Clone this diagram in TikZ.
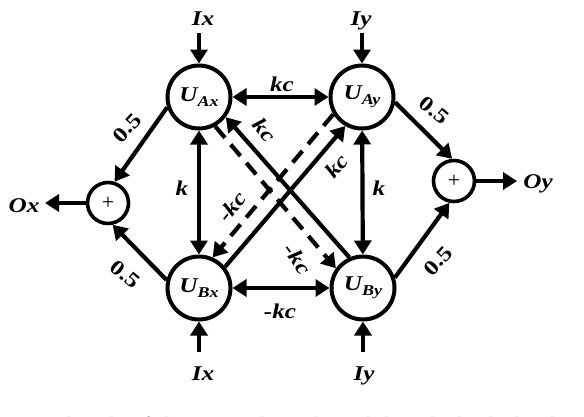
\documentclass[tikz,border=0pt]{standalone}
\usepackage{fontspec}
\setmainfont{Liberation Serif}
\newfontfamily\widefont[FakeStretch=1.2]{Liberation Serif}
\usetikzlibrary{arrows.meta,calc}
\begin{document}
\begin{tikzpicture}[x=1pt,y=-1pt,
  unit/.style={circle,draw,line width=4pt,minimum size=63pt,inner sep=0pt},
  plus/.style={circle,draw,line width=3.6pt,minimum size=41pt,inner sep=0pt,font=\fontsize{22}{22}\selectfont},
  conn/.style={line width=4.2pt,-{Triangle[length=14pt,width=17pt]}},
  bi/.style={line width=4.2pt,{Triangle[length=14pt,width=17pt]}-{Triangle[length=14pt,width=17pt]}},
  dconn/.style={conn,dash pattern=on 15pt off 9pt},
  lbl/.style={font=\widefont\bfseries\itshape\fontsize{21}{21}\selectfont,inner sep=0pt},
  num/.style={font=\widefont\bfseries\fontsize{21}{21}\selectfont,inner sep=0pt},
  io/.style={font=\widefont\bfseries\itshape\fontsize{21}{21}\selectfont,inner sep=0pt,anchor=base},
  captext/.style={font=\fontsize{26}{26}\selectfont,inner sep=0pt,anchor=base west}]
\useasboundingbox (0,0) rectangle (584,416);

% units
\newcommand{\unitlabel}[2]{{\widefont\bfseries\itshape\fontsize{21}{21}\selectfont U\raisebox{-5pt}{\fontsize{15}{15}\selectfont #1#2}}}
\node[unit] (Ax) at (199,97) {\unitlabel{A}{x}};
\node[unit] (Ay) at (362,97) {\unitlabel{A}{y}};
\node[unit] (Bx) at (199,288) {\unitlabel{B}{x}};
\node[unit] (By) at (363,288) {\unitlabel{B}{y}};
\node[plus] (px) at (108,203) {+};
\node[plus] (py) at (454,181) {+};

% inputs / outputs
\node[io] (IxT) at (203,25) {Ix};
\node[io] (IyT) at (361,25) {Iy};
\node[io] (IxB) at (203,380) {Ix};
\node[io] (IyB) at (364,380) {Iy};
\node[io] (Ox) at (24,212) {Ox};
\node[io] (Oy) at (538,188) {Oy};
\coordinate (ixs) at (199,33);
\coordinate (iys) at (362,33);
\coordinate (ixb) at (199,352);
\coordinate (iyb) at (363,352);
\coordinate (oxe) at (45,203);
\coordinate (oye) at (517,181);
\draw[conn] (ixs) -- (Ax);
\draw[conn] (iys) -- (Ay);
\draw[conn] (ixb) -- (Bx);
\draw[conn] (iyb) -- (By);
\draw[conn] (px) -- (oxe);
\draw[conn] (py) -- (oye);

% couplings
\draw[bi] (Ax) -- (Ay);
\draw[bi] (Bx) -- (By);
\draw[bi] (Ax) -- (Bx);
\draw[bi] (Ay) -- (By);
\draw[conn] (By.114) -- (Ax.-37);
\draw[dconn] (Ax.-61) -- (By.144);
\draw[conn] (Bx.39) -- (Ay.240);
\draw[dconn] (Ay.211) -- (Bx.66);

% outputs
\draw[conn] (Ax.198) -- (px.73);
\draw[conn] (Bx.166) -- (px.282);
\draw[conn] (Ay.-9) -- (py.95);
\draw[conn] (By.18) -- (py.258);

% labels
\node[lbl] (lkc1) at (282,84) {kc};
\node[lbl] (lkc2) at (280,311) {-kc};
\node[lbl] (lk1) at (182,188) {k};
\node[lbl] (lk2) at (379,188) {k};
\node[lbl,rotate=-50] (lkc3) at (265,130) {kc};
\node[lbl,rotate=50] (lkc4) at (337,166) {kc};
\node[lbl,rotate=50] (lkc5) at (232,207) {-kc};
\node[lbl,rotate=-55] (lkc6) at (298,259) {-kc};
\node[num,rotate=47] (n1) at (127,128) {0.5};
\node[num,rotate=-40] (n2) at (125,274) {0.5};
\node[num,rotate=-40] (n3) at (434,110) {0.5};
\node[num,rotate=47] (n4) at (438,261) {0.5};

% cropped caption
\begin{scope}
\clip (0,0) rectangle (584,416);
\node[captext] (caption) at (-2,435) {2.\ \ A sketch of the HNN-based model with the hybrid activation function};
\end{scope}
\end{tikzpicture}
\end{document}
